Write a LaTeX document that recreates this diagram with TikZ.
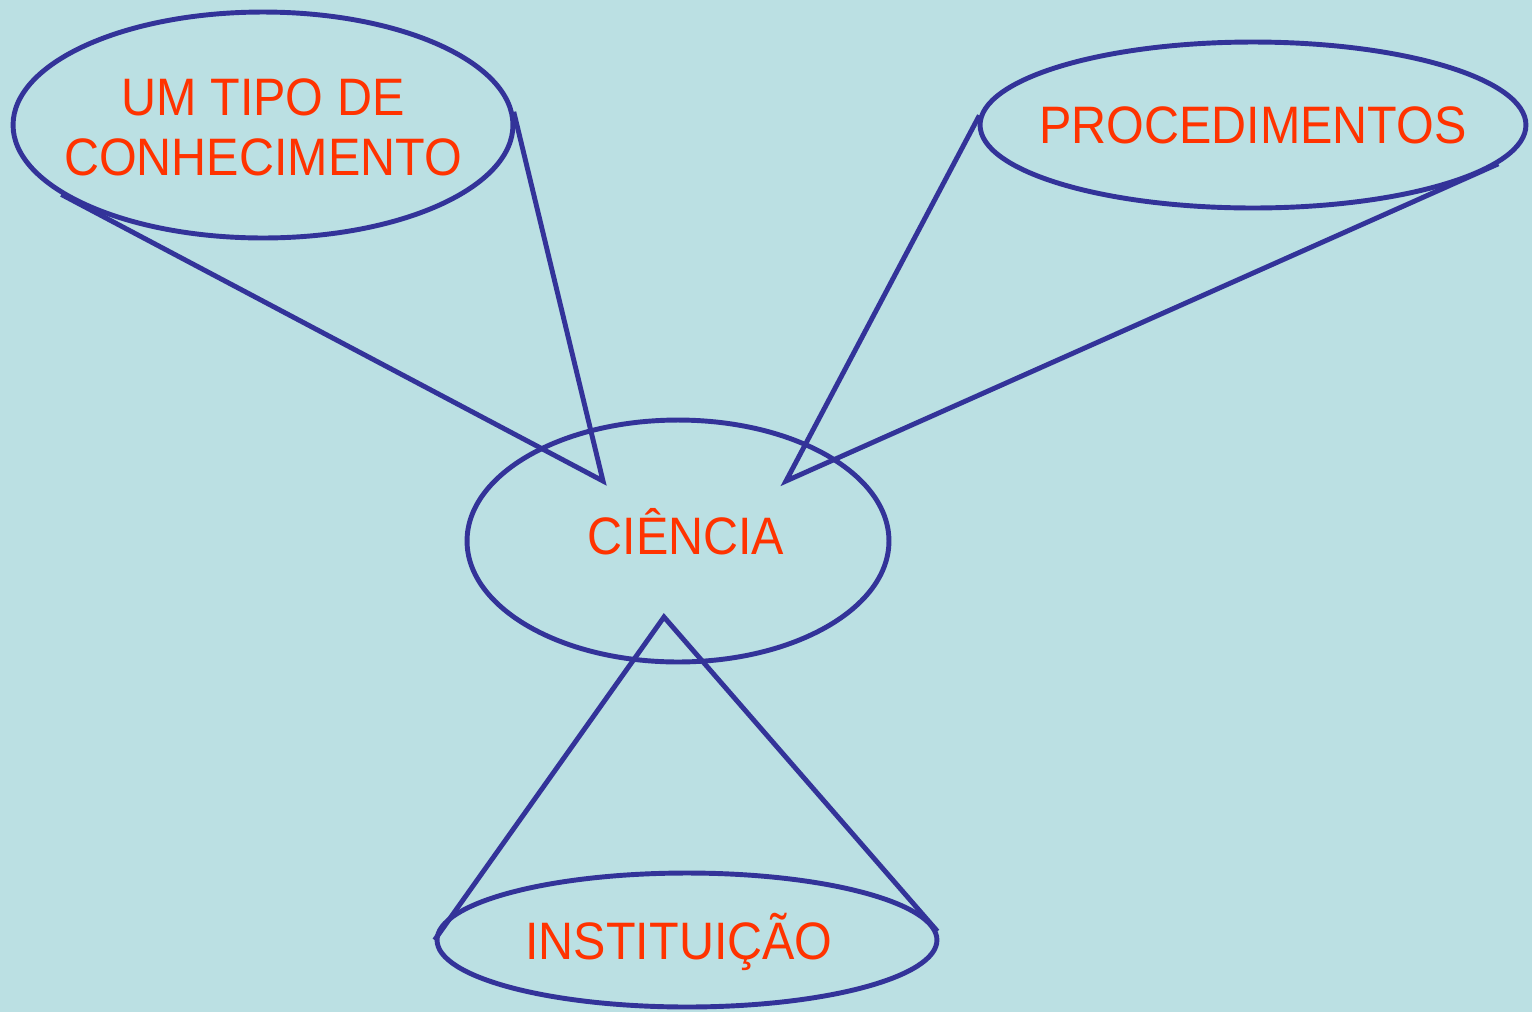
\documentclass[tikz,border=0pt]{standalone}
\usepackage{fontspec}
\setmainfont[FakeStretch=0.92]{Liberation Sans}
\usetikzlibrary{shapes.geometric}
\definecolor{fundo}{RGB}{187,224,227}
\definecolor{linha}{RGB}{51,51,153}
\definecolor{texto}{RGB}{255,51,0}
\tikzset{
	balao/.style={ellipse, draw=linha, line width=2.8pt, inner sep=0pt},
	rotulo/.style={text=texto, align=center, inner sep=0pt, font=\fontsize{30}{34}\selectfont},
	ponta/.style={draw=linha, line width=2.8pt}
}
\begin{document}
\begin{tikzpicture}[x=0.02cm,y=-0.02cm]
	\path[use as bounding box, fill=fundo] (0,0) rectangle (1532,1012);
	\node[balao, minimum width=10cm, minimum height=4.52cm] (conhec) at (263,125){};%top left
	\node[balao, minimum width=10.92cm, minimum height=3.32cm] (proced) at (1253,125){};%top right
	\node[balao, minimum width=8.44cm, minimum height=4.84cm] (ciencia) at (678,541){};%middle
	\node[balao, minimum width=10cm, minimum height=2.68cm] (instit) at (687,940){};%bottom
	\node[rotulo] (tconhec) at (263,127){UM TIPO DE\\CONHECIMENTO};
	\node[rotulo] (tproced) at (1253,125){PROCEDIMENTOS};
	\node[rotulo] (tciencia) at (686,532){CIÊNCIA};
	\node[rotulo] (tinstit) at (679,942){INSTITUIÇÃO};
	\coordinate (pc) at (603,481);
	\coordinate (pp) at (786,481);
	\coordinate (pi) at (664,617);
	\draw[ponta] (conhec.199) -- (pc) -- (conhec.3);
	\draw[ponta] (proced.178.5) -- (pp) -- (proced.351.4);
	\draw[ponta] (instit.180) -- (pi) -- (instit.2.3);
\end{tikzpicture}
\end{document}
